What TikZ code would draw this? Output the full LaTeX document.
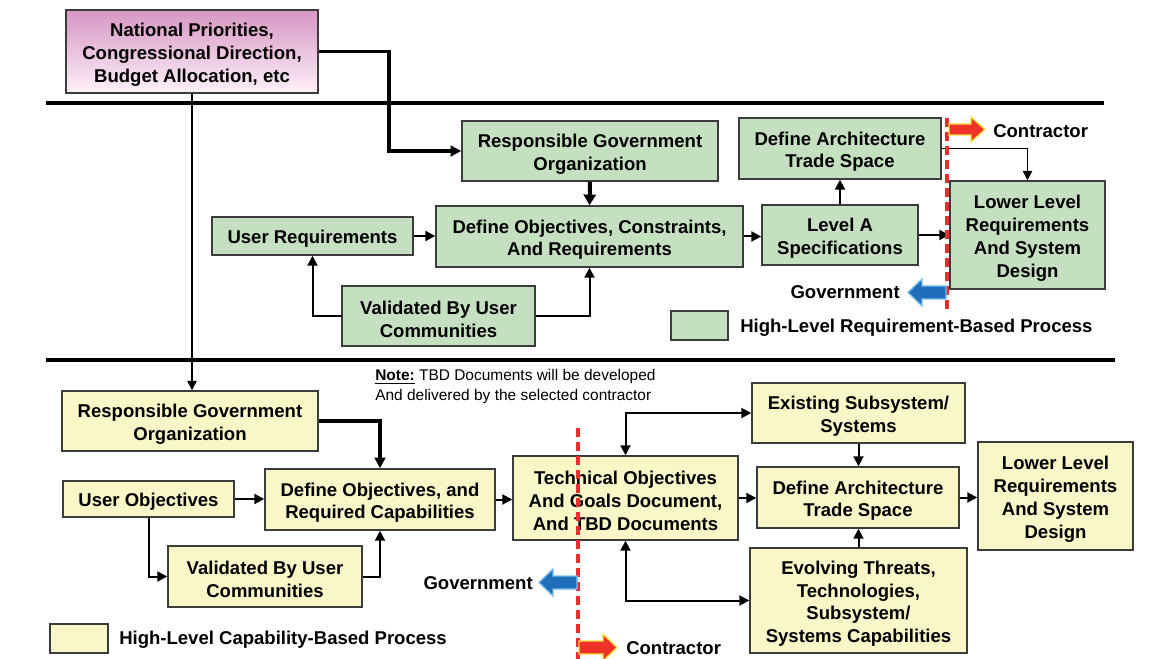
\documentclass[tikz,border=0pt]{standalone}
\usepackage{fontspec}
\setmainfont{Liberation Sans}
\usetikzlibrary{arrows.meta}
\definecolor{gfill}{RGB}{197,224,192}
\definecolor{yfill}{RGB}{249,247,200}
\definecolor{pinktop}{RGB}{214,150,195}
\definecolor{pinkbot}{RGB}{253,240,248}
\definecolor{bord}{RGB}{60,60,60}
\definecolor{dred}{RGB}{235,45,45}
\definecolor{ared}{RGB}{238,50,40}
\definecolor{ayel}{RGB}{250,225,60}
\definecolor{ablue}{RGB}{30,110,185}
\definecolor{alblue}{RGB}{120,190,235}
\tikzset{
  x=0.75pt, y=-0.75pt,
  boxbase/.style={draw=bord, line width=1.1pt, inner sep=0pt},
  gbox/.style={boxbase, fill=gfill},
  ybox/.style={boxbase, fill=yfill},
  pbox/.style={boxbase, top color=pinktop, bottom color=pinkbot},
  boxtext/.style={inner sep=0pt, align=center, font=\bfseries\fontsize{13.9}{17.2}\selectfont},
  conn/.style={line width=1.5pt, -{Triangle[length=7.5pt,width=7.5pt]}},
  dconn/.style={line width=1.5pt, {Triangle[length=7.5pt,width=7.5pt]}-{Triangle[length=7.5pt,width=7.5pt]}},
  thickconn/.style={line width=2.3pt, -{Triangle[length=8pt,width=8pt]}},
  thinconn/.style={line width=1.1pt, -{Triangle[length=7pt,width=7pt]}},
  sep/.style={line width=3pt},
  divider/.style={draw=dred, line width=2.6pt, dash pattern=on 7pt off 3.5pt},
  lbl/.style={font=\bfseries\fontsize{13.9}{17}\selectfont, inner sep=0pt},
  note/.style={font=\fontsize{11.6}{15}\selectfont, inner sep=0pt, align=left},
}
\newcommand{\mkbox}[7]{%
  \pgfmathsetmacro\bcx{(#3+#5)/2}\pgfmathsetmacro\bcy{(#4+#6)/2}%
  \pgfmathsetmacro\bww{(#5-#3)*0.75}\pgfmathsetmacro\bhh{(#6-#4)*0.75}%
  \node[#1, minimum width=\bww pt, minimum height=\bhh pt] (#2) at (\bcx,\bcy) {};
  \node[boxtext] (#2t) at ([yshift=-2.4pt]#2.center) {#7};}
\begin{document}
\begin{tikzpicture}
\useasboundingbox (0,0) rectangle (1164,659);
\fill[white] (0,0) rectangle (1164,659);
% separators
\coordinate (s1a) at (46,103); \coordinate (s1b) at (1104,103);
\coordinate (s2a) at (46,360); \coordinate (s2b) at (1115,360);
\draw[sep] (s1a) -- (s1b);
\draw[sep] (s2a) -- (s2b);
% top
\mkbox{pbox}{nat}{66}{10}{318}{93}{National Priorities,\\Congressional Direction,\\Budget Allocation, etc}
% upper section
\mkbox{gbox}{rgo1}{462}{121}{718}{181}{Responsible Government\\Organization}
\mkbox{gbox}{docr}{436}{206}{743}{267}{Define Objectives, Constraints,\\And Requirements}
\mkbox{gbox}{ureq}{212}{217}{413}{255}{User Requirements}
\mkbox{gbox}{val1}{342}{286}{535}{346}{Validated By User\\Communities}
\mkbox{gbox}{lvla}{762}{205}{918}{265}{Level A\\Specifications}
\mkbox{gbox}{dats1}{739}{118}{941}{179}{Define Architecture\\Trade Space}
\mkbox{gbox}{llr1}{950}{181}{1105}{289}{Lower Level\\Requirements\\And System\\Design}
\mkbox{gbox}{leg1}{671}{311}{728}{340}{}
\node[lbl, anchor=west] (leg1t) at (740,328) {High-Level Requirement-Based Process};
% lower section
\mkbox{ybox}{rgo2}{62}{391}{318}{451}{Responsible Government\\Organization}
\mkbox{ybox}{uobj}{63}{481}{234}{517}{User Objectives}
\mkbox{ybox}{doarc}{265}{469}{495}{530}{Define Objectives, and\\Required Capabilities}
\mkbox{ybox}{val2}{168}{546}{362}{607}{Validated By User\\Communities}
\mkbox{ybox}{leg2}{50}{624}{108}{653}{}
\node[lbl, anchor=west] (leg2t) at (119,640) {High-Level Capability-Based Process};
\mkbox{ybox}{togd}{513}{456}{738}{540}{Technical Objectives\\And Goals Document,\\And TBD Documents}
\mkbox{ybox}{exist}{752}{383}{965}{443}{Existing Subsystem/\\Systems}
\mkbox{ybox}{dats2}{757}{467}{959}{528}{Define Architecture\\Trade Space}
\mkbox{ybox}{evol}{750}{548}{967}{653}{Evolving Threats,\\Technologies,\\Subsystem/\\Systems Capabilities}
\mkbox{ybox}{llr2}{978}{442}{1133}{550}{Lower Level\\Requirements\\And System\\Design}
% note
\node[note, anchor=west] (note) at (375,387) {\underline{\textbf{Note:}} TBD Documents will be developed\\And delivered by the selected contractor};
% connectors top
\coordinate (natbend) at (389,151);
\draw[thickconn] (nat.east) -| (natbend) -- (rgo1.west);
\draw[thinconn] (nat.south) -- (nat.south |- rgo2.north);
% upper connectors
\draw[line width=3pt, -{Triangle[length=8pt,width=9pt]}] (rgo1.south) -- (docr.north);
\draw[conn] (ureq.east) -- (ureq.east -| docr.west);
\draw[conn] (val1.west) -| (ureq.south);
\draw[conn] (val1.east) -| (docr.south);
\draw[conn] (docr.east) -- (docr.east -| lvla.west);
\draw[conn] (lvla.north) -- (lvla.north |- dats1.south);
\draw[conn] (lvla.east) -- (lvla.east -| llr1.west);
\draw[line width=1.1pt, -{Triangle[length=7pt,width=7pt]}] (dats1.east) -| (llr1.north);
% lower connectors
\draw[thickconn] (rgo2.east) -| (doarc.north);
\draw[conn] (uobj.east) -- (uobj.east -| doarc.west);
\draw[conn] (uobj.south) |- (val2.west);
\draw[conn] (val2.east) -| (doarc.south);
\draw[conn] (doarc.east) -- (doarc.east -| togd.west);
\draw[dconn] (togd.north) |- (exist.west);
\draw[dconn] (togd.south) |- (evol.west);
\draw[conn] (togd.east) -- (togd.east -| dats2.west);
\draw[conn] (exist.south) -- (exist.south |- dats2.north);
\draw[conn] (evol.north) -- (evol.north |- dats2.south);
\draw[conn] (dats2.east) -- (dats2.east -| llr2.west);
% dividers
\coordinate (d1a) at (947,118); \coordinate (d1b) at (947,310);
\coordinate (d2a) at (578,428); \coordinate (d2b) at (578,659);
\draw[divider] (d1a) -- (d1b);
\draw[divider] (d2a) -- (d2b);
% contractor / government arrows (upper)
\filldraw[fill=ared, draw=ayel, line width=1pt]
  (949,124) -- (971,124) -- (971,117) -- (985,129.5) -- (971,142) -- (971,135) -- (949,135) -- cycle;
\node[lbl, anchor=west] (con1) at (993,131) {Contractor};
\filldraw[fill=ablue, draw=alblue, line width=1pt]
  (946,286) -- (922,286) -- (922,279) -- (908,292.5) -- (922,306) -- (922,299) -- (946,299) -- cycle;
\node[lbl, anchor=east] (gov1) at (900,292) {Government};
% lower
\filldraw[fill=ablue, draw=alblue, line width=1pt]
  (577,576) -- (553,576) -- (553,569) -- (539,582.5) -- (553,596) -- (553,589) -- (577,589) -- cycle;
\node[lbl, anchor=east] (gov2) at (533,583) {Government};
\filldraw[fill=ared, draw=ayel, line width=1pt]
  (579,641) -- (603,641) -- (603,634) -- (617,647.5) -- (603,661) -- (603,654) -- (579,654) -- cycle;
\node[lbl, anchor=west] (con2) at (626,648) {Contractor};
\end{tikzpicture}
\end{document}
